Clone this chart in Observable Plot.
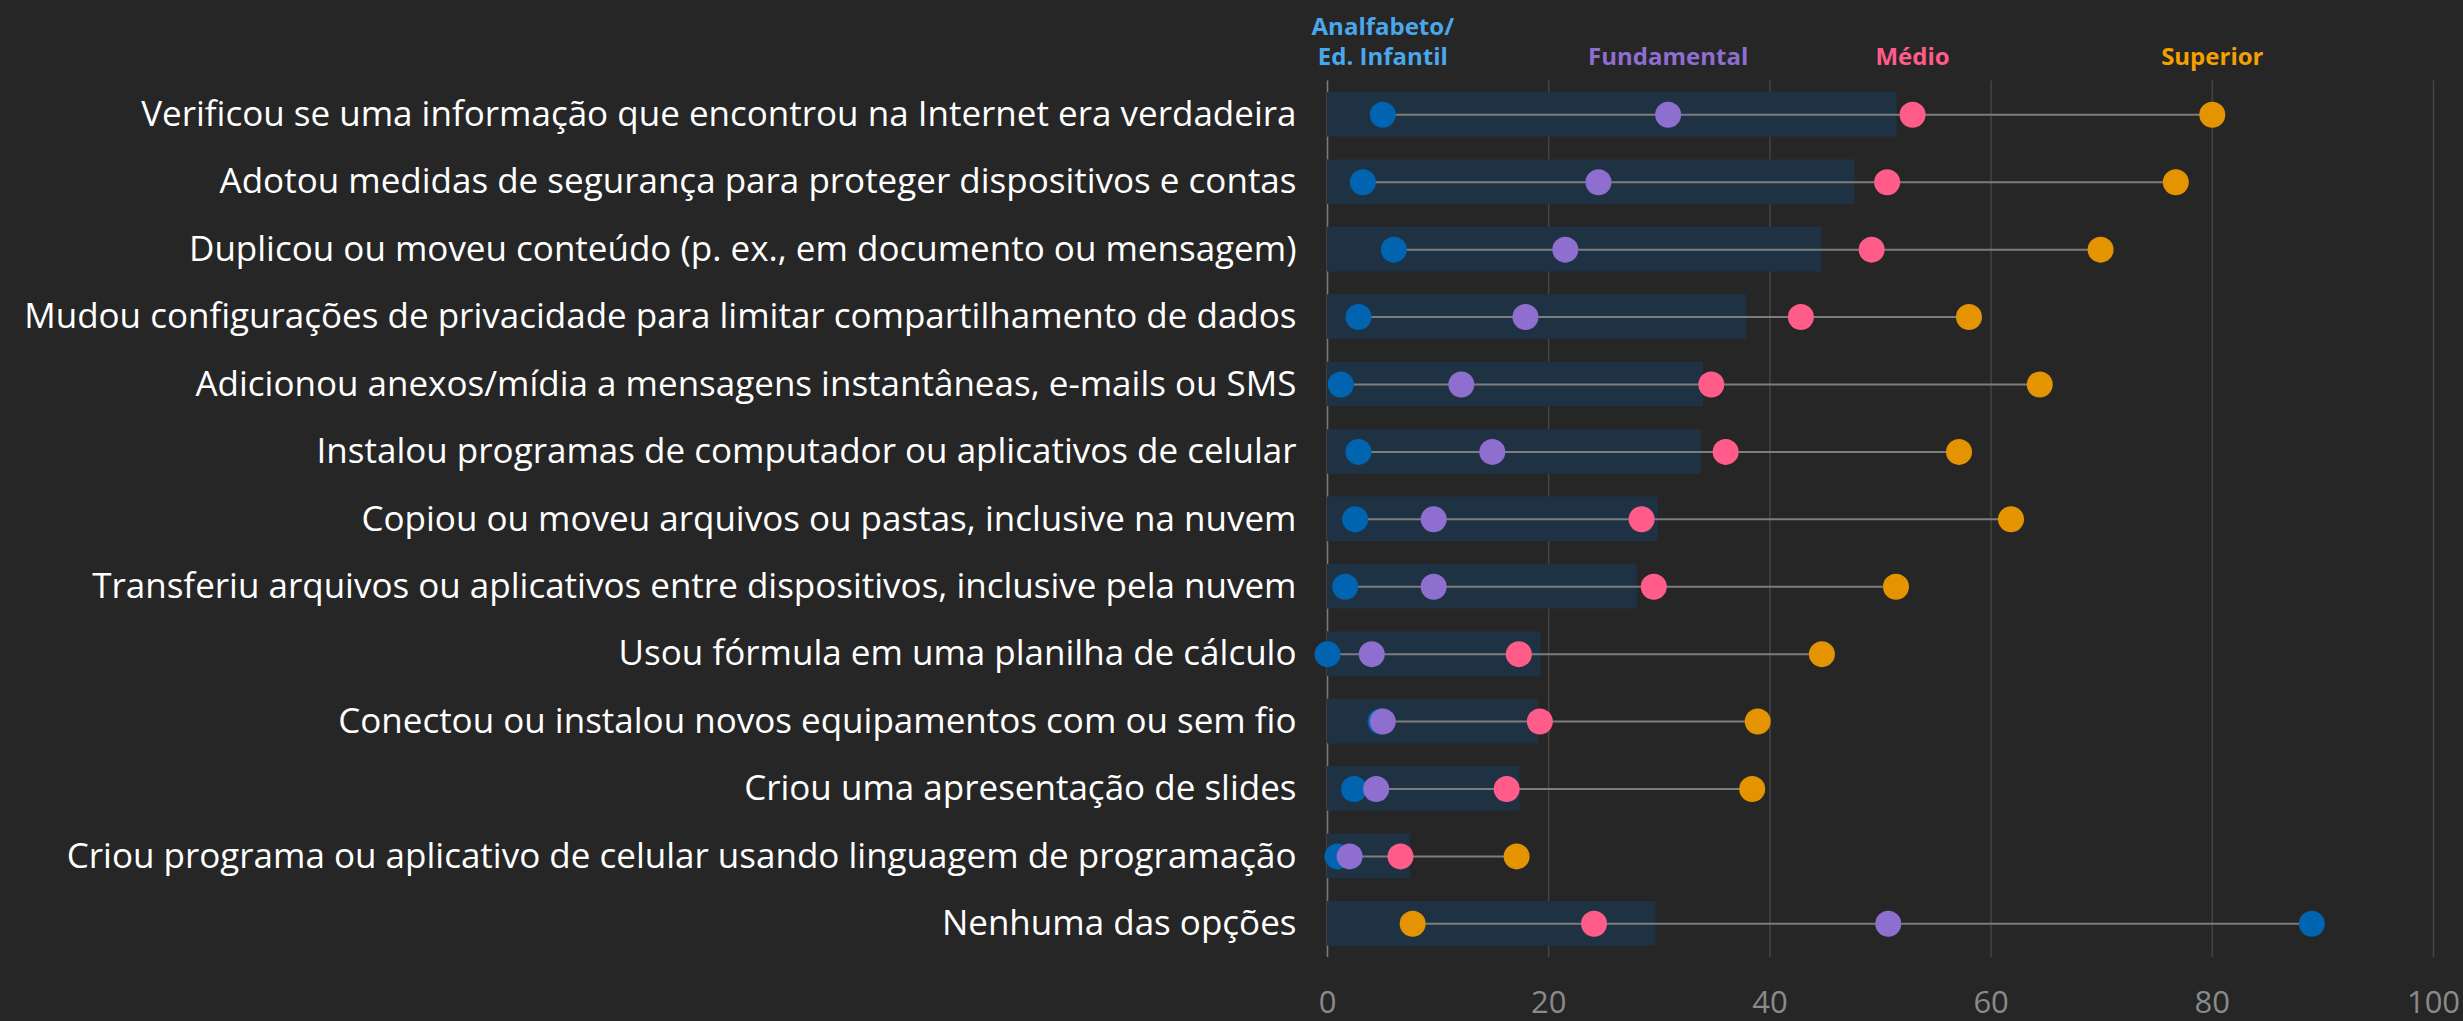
<!DOCTYPE html>
<html>
<head>
<meta charset="utf-8">
<script src="https://cdn.jsdelivr.net/npm/d3@7"></script>
<script src="https://cdn.jsdelivr.net/npm/@observablehq/plot@0.6"></script>
<style>
  html, body { margin: 0; padding: 0; background: #262626; }
  #chart svg { display: block; }
</style>
</head>
<body>
<div id="chart"></div>
<script>
const categories = [
  "Verificou se uma informação que encontrou na Internet era verdadeira",
  "Adotou medidas de segurança para proteger dispositivos e contas",
  "Duplicou ou moveu conteúdo (p. ex., em documento ou mensagem)",
  "Mudou configurações de privacidade para limitar compartilhamento de dados",
  "Adicionou anexos/mídia a mensagens instantâneas, e-mails ou SMS",
  "Instalou programas de computador ou aplicativos de celular",
  "Copiou ou moveu arquivos ou pastas, inclusive na nuvem",
  "Transferiu arquivos ou aplicativos entre dispositivos, inclusive pela nuvem",
  "Usou fórmula em uma planilha de cálculo",
  "Conectou ou instalou novos equipamentos com ou sem fio",
  "Criou uma apresentação de slides",
  "Criou programa ou aplicativo de celular usando linguagem de programação",
  "Nenhuma das opções"
];
const total       = [51.5, 47.7, 44.7, 37.9, 34.0, 33.8, 29.9, 28.0, 19.3, 19.1, 17.4, 7.5, 29.7];
const analfabeto  = [5.0, 3.2, 6.0, 2.8, 1.2, 2.8, 2.5, 1.6, 0.0, 4.8, 2.4, 0.9, 89.0];
const fundamental = [30.8, 24.5, 21.5, 17.9, 12.1, 14.9, 9.6, 9.6, 4.0, 5.0, 4.4, 2.0, 50.7];
const medio       = [52.9, 50.6, 49.2, 42.8, 34.7, 36.0, 28.4, 29.5, 17.3, 19.2, 16.2, 6.6, 24.1];
const superior    = [80.0, 76.7, 69.9, 58.0, 64.4, 57.1, 61.8, 51.4, 44.7, 38.9, 38.4, 17.1, 7.7];

const seriesNames  = ["Analfabeto/\nEd. Infantil", "Fundamental", "Médio", "Superior"];
const dotColors    = ["#0064b0", "#8e6fcf", "#ff5c8a", "#e39400"];
const headerColors = ["#4aa8ea", "#8e6fcf", "#ff5c8a", "#f2a100"];
const xTicks = [0, 20, 40, 60, 80, 100];

const seriesValues = [analfabeto, fundamental, medio, superior];

const rows = categories.map((c, i) => {
  const vals = seriesValues.map(s => s[i]);
  return {cat: c, total: total[i], min: d3.min(vals), max: d3.max(vals)};
});
const dots = [];
seriesValues.forEach((s, k) => {
  categories.forEach((c, i) => dots.push({cat: c, value: s[i], series: seriesNames[k], k}));
});
const headers = seriesNames.map((name, k) => ({
  label: name, x: seriesValues[k][0], cat: categories[0], color: headerColors[k]
}));

const chart = Plot.plot({
  width: 2463,
  height: 1021,
  marginLeft: 1327,
  marginRight: 30,
  marginTop: 80.6,
  marginBottom: 64,
  style: {background: "#262626", color: "#ffffff", fontFamily: "'Open Sans', 'Noto Sans', sans-serif"},
  x: {domain: [0, 100]},
  y: {domain: categories, paddingInner: 0.337, paddingOuter: 0.1685, round: false},
  marks: [
    Plot.gridX(xTicks, {stroke: "#444444", strokeOpacity: 1, strokeWidth: 1.5}),
    Plot.ruleX([0], {stroke: "#7a7a7a", strokeWidth: 1.5}),
    Plot.barX(rows, {y: "cat", x: "total", fill: "#1f3243"}),
    Plot.ruleY(rows, {y: "cat", x1: "min", x2: "max", stroke: "#7d7d7d", strokeWidth: 2}),
    Plot.dot(dots, {x: "value", y: "cat", r: 13, fill: d => dotColors[d.k], stroke: null}),
    Plot.text(headers, {
      x: "x", y: "cat", text: "label", fill: "color",
      fontSize: 24, fontWeight: "bold", lineAnchor: "bottom", lineHeight: 1.25, dy: -50
    }),
    Plot.axisY({tickSize: 0, tickPadding: 31, fontSize: 35, fill: "#ffffff", label: null}),
    Plot.axisX({ticks: xTicks, tickSize: 0, tickPadding: 33, fontSize: 31, fill: "#8a8a8a", label: null})
  ]
});
document.getElementById("chart").appendChild(chart);
</script>
</body>
</html>
